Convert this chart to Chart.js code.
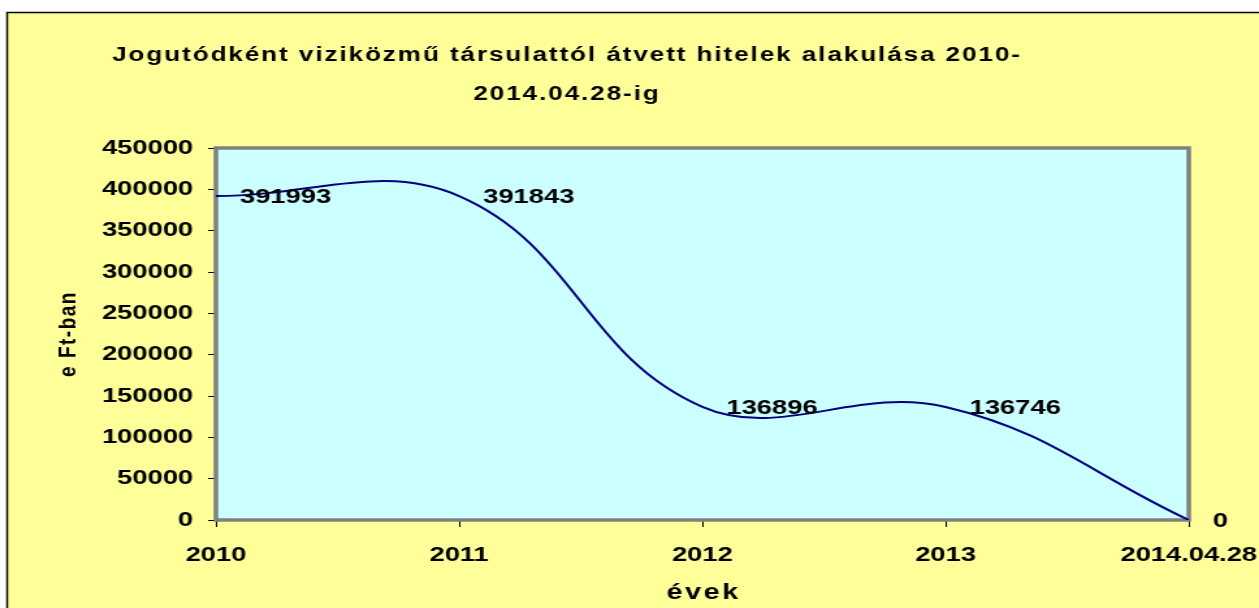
<!DOCTYPE html>
<html>
<head>
<meta charset="utf-8">
<script src="https://cdn.jsdelivr.net/npm/chart.js@4/dist/chart.umd.min.js"></script>
<style>
  html, body { margin: 0; padding: 0; background: #fff; overflow: hidden; }
  #myChart { display: block; }
</style>
</head>
<body>
<!-- drawn narrower and stretched to 1259px, the original picture is widened like that -->
<canvas id="myChart" width="968" height="608" style="width:1259px;height:608px"></canvas>
<script>
const labels = ['2010', '2011', '2012', '2013', '2014.04.28'];
const values = [391993, 391843, 136896, 136746, 0];
const yMax = 450000;
const yStep = 50000;
const titleLines = ['Jogutódként viziközmű társulattól átvett hitelek alakulása 2010-', '2014.04.28-ig'];
const yTitle = 'e Ft-ban';
const xTitle = 'évek';

const FONT = "'Liberation Sans', Arial, sans-serif";

const background = {
  id: 'background',
  beforeDraw(chart) {
    const { ctx, width, height, chartArea } = chart;
    ctx.save();
    ctx.fillStyle = '#ffffff';
    ctx.fillRect(0, 0, width, height);
    ctx.fillStyle = '#ffff99';
    ctx.fillRect(5.5, 12.5, width, height);
    ctx.strokeStyle = '#000';
    ctx.lineWidth = 1.5;
    ctx.beginPath();
    ctx.moveTo(5.5, height);
    ctx.lineTo(5.5, 12.5);
    ctx.lineTo(width, 12.5);
    ctx.stroke();
    ctx.fillStyle = '#ccffff';
    ctx.fillRect(chartArea.left, chartArea.top, chartArea.right - chartArea.left, chartArea.bottom - chartArea.top);
    ctx.restore();
  },
  beforeDatasetsDraw(chart) {
    const { ctx, chartArea } = chart;
    ctx.save();
    ctx.strokeStyle = '#808080';
    ctx.lineWidth = 3.5;
    ctx.strokeRect(chartArea.left, chartArea.top, chartArea.right - chartArea.left, chartArea.bottom - chartArea.top);
    ctx.restore();
  }
};

const texts = {
  id: 'texts',
  afterDatasetsDraw(chart) {
    const { ctx, chartArea } = chart;
    ctx.save();
    ctx.fillStyle = '#000';

    // value labels right of each point
    ctx.font = `bold 21px ${FONT}`;
    ctx.textAlign = 'left';
    ctx.textBaseline = 'middle';
    chart.getDatasetMeta(0).data.forEach((pt, i) => {
      ctx.fillText(String(values[i]), pt.x + 18.5, pt.y + 1);
    });

    // title
    ctx.font = `bold 20px ${FONT}`;
    ctx.letterSpacing = '1.5px';
    ctx.textAlign = 'center';
    ctx.textBaseline = 'alphabetic';
    ctx.fillText(titleLines[0], 436, 61);
    ctx.fillText(titleLines[1], 436, 100);

    // x axis title
    ctx.font = `bold 22px ${FONT}`;
    ctx.letterSpacing = '2px';
    ctx.fillText(xTitle, (chartArea.left + chartArea.right) / 2 + 1, 599);

    // y axis title
    ctx.font = `bold 19px ${FONT}`;
    ctx.letterSpacing = '1.5px';
    ctx.translate(52.5, 334);
    ctx.rotate(-Math.PI / 2);
    ctx.textBaseline = 'middle';
    ctx.fillText(yTitle, 0, 0);
    ctx.restore();
  }
};

new Chart(document.getElementById('myChart'), {
  type: 'line',
  data: {
    labels: labels,
    datasets: [{
      data: values,
      borderColor: '#000080',
      borderWidth: 2,
      pointRadius: 0,
      fill: false,
      tension: 0.4
    }]
  },
  options: {
    responsive: false,
    animation: false,
    devicePixelRatio: 1,
    layout: { padding: { left: 0, top: 148, right: 54, bottom: 0 } },
    plugins: {
      legend: { display: false },
      tooltip: { enabled: false }
    },
    scales: {
      x: {
        offset: false,
        border: { display: false },
        grid: { drawOnChartArea: false, drawTicks: true, tickLength: 7, color: '#000' },
        ticks: {
          color: '#000',
          padding: 16,
          maxRotation: 0,
          autoSkip: false,
          font: { family: FONT, size: 21, weight: 'bold' }
        },
        afterFit(scale) {
          scale.height = 88;
          scale.paddingLeft = 0;
          scale.paddingRight = 0;
        }
      },
      y: {
        min: 0,
        max: yMax,
        border: { display: false },
        grid: { drawOnChartArea: false, drawTicks: true, tickLength: 6, color: '#000' },
        ticks: {
          stepSize: yStep,
          color: '#000',
          padding: 11.5,
          font: { family: FONT, size: 21, weight: 'bold' },
          callback: (v) => String(v)
        },
        afterFit(scale) {
          scale.width = 166;
          scale.paddingTop = 0;
          scale.paddingBottom = 0;
        }
      }
    }
  },
  plugins: [background, texts]
});
</script>
</body>
</html>
